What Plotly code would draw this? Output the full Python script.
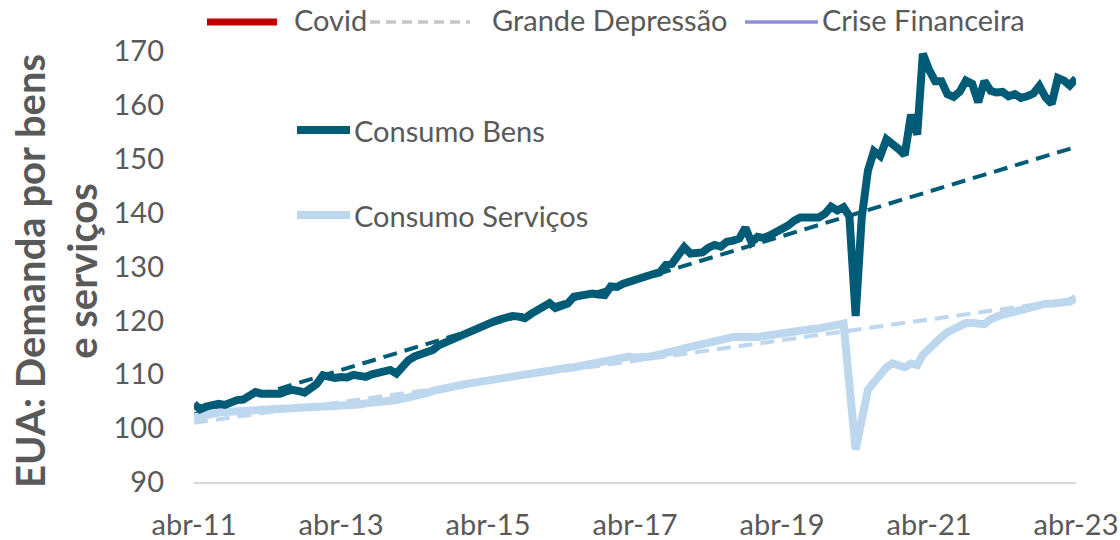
import plotly.graph_objects as go
import pandas as pd

# ---------------- data ----------------
datas = pd.date_range("2011-04-01", "2023-04-01", freq="MS")

consumo_bens = [
    104.5, 103.5, 104.0, 104.3, 104.5, 104.3, 104.9, 105.2, 105.3, 106.0,
    106.7, 106.4, 106.3, 106.5, 106.4, 106.8, 107.1, 106.9, 106.6, 107.4,
    108.2, 109.8, 109.5, 109.3, 109.5, 109.4, 109.9, 109.7, 109.5, 110.0,
    110.3, 110.6, 110.8, 110.1, 111.6, 112.6, 113.3, 113.6, 114.2, 114.5,
    115.4, 115.9, 116.5, 117.2, 117.6, 118.0, 118.5, 118.9, 119.4, 119.8,
    120.2, 120.6, 120.8, 120.7, 120.4, 121.2, 121.8, 122.3, 123.2, 122.3,
    122.6, 123.1, 124.4, 124.6, 124.8, 125.0, 124.8, 124.7, 126.3, 126.2,
    126.8, 127.2, 127.4, 128.0, 128.4, 128.6, 128.9, 130.3, 130.5, 132.0,
    133.6, 132.4, 132.5, 132.6, 133.5, 134.0, 133.7, 134.6, 134.8, 135.2,
    137.2, 134.5, 135.5, 135.3, 135.8, 136.3, 136.8, 137.6, 138.5, 139.1,
    139.1, 139.2, 139.1, 139.8, 141.1, 140.4, 141.0, 139.3, 120.8, 139.0,
    147.8, 151.4, 150.5, 153.6, 152.8, 151.8, 150.7, 158.2, 154.5, 169.5,
    166.5, 164.4, 164.4, 162.0, 161.5, 162.5, 164.5, 163.9, 160.5, 164.4,
    162.6, 162.3, 162.4, 161.6, 162.0, 161.3, 161.6, 162.1, 163.5, 161.4,
    160.2, 165.0, 164.5, 163.6, 164.9,
]

consumo_servicos = [
    102.0, 102.3, 102.5, 102.8, 102.9, 103.0, 103.0, 103.1, 103.2, 103.3,
    103.3, 103.4, 103.4, 103.5, 103.6, 103.7, 103.7, 103.8, 103.8, 103.9,
    104.0, 104.0, 104.0, 104.1, 104.2, 104.2, 104.2, 104.4, 104.6, 104.8,
    104.9, 105.0, 105.1, 105.2, 105.4, 105.6, 105.8, 106.1, 106.5, 106.9,
    107.2, 107.5, 107.7, 107.9, 108.1, 108.3, 108.5, 108.7, 108.8, 109.0,
    109.2, 109.4, 109.6, 109.9, 110.1, 110.3, 110.5, 110.7, 110.8, 110.9,
    111.1, 111.2, 111.3, 111.5, 111.7, 111.9, 112.1, 112.4, 112.7, 112.9,
    113.2, 113.3, 113.1, 113.0, 113.2, 113.4, 113.6, 113.8, 114.0, 114.5,
    114.8, 115.1, 115.4, 115.7, 115.9, 116.2, 116.4, 116.6, 116.9, 116.9,
    116.8, 116.7, 116.9, 117.1, 117.3, 117.5, 117.6, 117.7, 117.8, 118.0,
    118.2, 118.4, 118.5, 118.7, 118.9, 119.2, 119.4, 108.0, 96.0, 101.5,
    107.1, 108.5, 110.2, 111.3, 112.0, 111.6, 111.3, 112.0, 111.7, 113.6,
    114.8, 116.0, 116.9, 117.8, 118.5, 119.0, 119.5, 119.5, 119.4, 119.3,
    120.2, 120.8, 121.1, 121.3, 121.6, 121.9, 122.3, 122.8, 123.0, 123.1,
    123.1, 123.3, 123.6, 123.5, 124.2,
]

tendencia_datas = ["2011-04-01", "2023-04-01"]
tendencia_bens = [102.5, 152.2]
tendencia_servicos = [101.0, 124.0]

tick_datas = ["2011-04-01", "2013-04-01", "2015-04-01", "2017-04-01",
              "2019-04-01", "2021-04-01", "2023-04-01"]
tick_labels = ["abr-11", "abr-13", "abr-15", "abr-17", "abr-19", "abr-21", "abr-23"]
y_ticks = [90, 100, 110, 120, 130, 140, 150, 160, 170]

nomes_series = ["Consumo Bens", "Consumo Serviços"]
legenda_topo = ["Covid", "Grande Depressão", "Crise Financeira"]

# ---------------- style ----------------
COR_BENS = "#005B76"
COR_SERV = "#BDD7EE"
COR_TXT = "#595959"
FONTE = "Lato"

W, H = 1120, 540
# plot area in page pixels
L, R, T, B = 194, 1076, 51, 482


def px(x):
    return (x - L) / (R - L)


def py(y):
    return (B - y) / (B - T)


fig = go.Figure()

fig.add_trace(go.Scatter(x=tendencia_datas, y=tendencia_servicos, mode="lines",
                         line=dict(color=COR_SERV, width=4, dash="14px,8px"),
                         showlegend=False, hoverinfo="skip"))
fig.add_trace(go.Scatter(x=tendencia_datas, y=tendencia_bens, mode="lines",
                         line=dict(color=COR_BENS, width=4, dash="14px,8px"),
                         showlegend=False, hoverinfo="skip"))
fig.add_trace(go.Scatter(x=datas, y=consumo_servicos, mode="lines", name=nomes_series[1],
                         line=dict(color=COR_SERV, width=8), showlegend=False))
fig.add_trace(go.Scatter(x=datas, y=consumo_bens, mode="lines", name=nomes_series[0],
                         line=dict(color=COR_BENS, width=8), showlegend=False))

shapes = []
annotations = []

# inner legend (drawn)
for nome, cor, yy in [(nomes_series[0], COR_BENS, 130), (nomes_series[1], COR_SERV, 215)]:
    shapes.append(dict(type="line", xref="paper", yref="paper",
                       x0=px(297), x1=px(350), y0=py(yy), y1=py(yy),
                       line=dict(color=cor, width=8)))
    annotations.append(dict(text=nome, xref="paper", yref="paper", x=px(352), y=py(yy),
                            xanchor="left", yanchor="middle", showarrow=False,
                            font=dict(family=FONTE, size=29, color=COR_TXT)))

# top legend (drawn)
top_items = [
    (legenda_topo[0], dict(color="#C00000", width=7), 207, 277, 292),
    (legenda_topo[1], dict(color="#C8C8C8", width=3.5, dash="10px,6px"), 370, 470, 490),
    (legenda_topo[2], dict(color="#8F8FDF", width=3.5), 745, 818, 820),
]
for nome, ln, xa, xb, xt in top_items:
    shapes.append(dict(type="line", xref="paper", yref="paper",
                       x0=px(xa), x1=px(xb), y0=py(22), y1=py(22), line=ln))
    annotations.append(dict(text=nome, xref="paper", yref="paper", x=px(xt), y=py(20),
                            xanchor="left", yanchor="middle", showarrow=False,
                            font=dict(family=FONTE, size=29, color=COR_TXT)))

# y-axis title
annotations.append(dict(text="<b>EUA: Demanda por bens<br>e serviços</b>",
                        xref="paper", yref="paper", x=px(56), y=py(271),
                        xanchor="center", yanchor="middle", textangle=-90,
                        showarrow=False,
                        font=dict(family=FONTE, size=40, color=COR_TXT)))

fig.update_layout(
    width=W, height=H,
    margin=dict(l=L, r=W - R, t=T, b=H - B, autoexpand=False),
    paper_bgcolor="white", plot_bgcolor="white",
    font=dict(family=FONTE, size=29, color=COR_TXT),
    shapes=shapes, annotations=annotations,
    showlegend=False,
)
fig.update_xaxes(range=["2011-04-01", "2023-04-01"], tickvals=tick_datas, ticktext=tick_labels,
                 showgrid=False, zeroline=False, showline=True, linecolor="#D9D9D9",
                 linewidth=2, ticks="", ticklabelstandoff=16, automargin=False,
                 tickfont=dict(family=FONTE, size=29, color=COR_TXT))
fig.update_yaxes(range=[90, 170], tickvals=y_ticks, showgrid=False, zeroline=False,
                 showline=False, ticks="", ticklabelstandoff=29, automargin=False,
                 tickfont=dict(family=FONTE, size=29, color=COR_TXT))

fig.write_html("out.html", config={"displayModeBar": False},
               post_script="document.body.style.margin='0px';document.body.style.overflow='hidden';")
